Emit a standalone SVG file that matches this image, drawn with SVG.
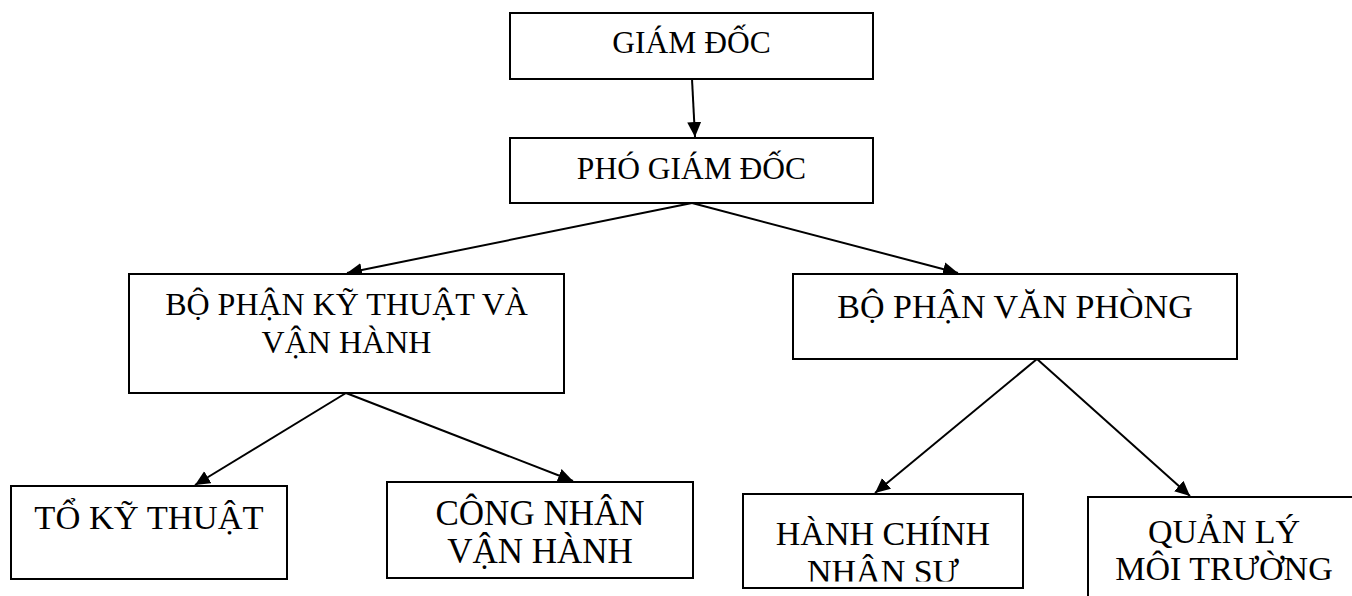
<svg xmlns="http://www.w3.org/2000/svg" width="1352" height="596" viewBox="0 0 1352 596">
  <style>
    .box { fill: #ffffff; stroke: #000000; stroke-width: 2; }
    .lbl { font-family: "Liberation Serif", "Times New Roman", serif; fill: #000000; text-anchor: middle; }
    .edge { stroke: #000000; stroke-width: 2; fill: none; marker-end: url(#arrow); }
  </style>
  <defs>
    <marker id="arrow" markerUnits="userSpaceOnUse" markerWidth="16" markerHeight="16" refX="15" refY="7" orient="auto">
      <path d="M0,0 L15,7 L0,14 z" fill="#000000"/>
    </marker>
    <clipPath id="clip-hc">
      <rect x="744" y="495" width="278" height="86.5"/>
    </clipPath>
  </defs>

  <g id="connectors">
    <line class="edge" x1="692" y1="79" x2="695" y2="137"/>
    <line class="edge" x1="692" y1="203" x2="347" y2="273"/>
    <line class="edge" x1="692" y1="203" x2="958" y2="273"/>
    <line class="edge" x1="346" y1="393" x2="195" y2="485"/>
    <line class="edge" x1="346" y1="393" x2="573" y2="481"/>
    <line class="edge" x1="1037" y1="359" x2="875" y2="493"/>
    <line class="edge" x1="1037" y1="359" x2="1190" y2="496"/>
  </g>

  <g id="giam-doc">
    <rect class="box" x="510" y="13" width="363" height="66"/>
    <text class="lbl" x="691.5" y="53" font-size="31.5">GIÁM ĐỐC</text>
  </g>

  <g id="pho-giam-doc">
    <rect class="box" x="510" y="138" width="363" height="65"/>
    <text class="lbl" x="691.5" y="179" font-size="31.5">PHÓ GIÁM ĐỐC</text>
  </g>

  <g id="bp-ky-thuat">
    <rect class="box" x="129" y="274" width="435" height="119"/>
    <text class="lbl" x="346.5" y="315" font-size="32">BỘ PHẬN KỸ THUẬT VÀ</text>
    <text class="lbl" x="346.5" y="353" font-size="32">VẬN HÀNH</text>
  </g>

  <g id="bp-van-phong">
    <rect class="box" x="793" y="274" width="444" height="85"/>
    <text class="lbl" x="1015" y="318" font-size="34">BỘ PHẬN VĂN PHÒNG</text>
  </g>

  <g id="to-ky-thuat">
    <rect class="box" x="11" y="486" width="276" height="93"/>
    <text class="lbl" x="149" y="529" font-size="34.5">TỔ KỸ THUẬT</text>
  </g>

  <g id="cong-nhan">
    <rect class="box" x="387" y="482" width="306" height="96"/>
    <text class="lbl" x="540" y="525" font-size="35">CÔNG NHÂN</text>
    <text class="lbl" x="540" y="563" font-size="35">VẬN HÀNH</text>
  </g>

  <g id="hanh-chinh">
    <rect class="box" x="743" y="494" width="280" height="94"/>
    <g clip-path="url(#clip-hc)">
      <text class="lbl" x="883" y="545" font-size="34">HÀNH CHÍNH</text>
      <text class="lbl" x="883" y="583" font-size="34">NHÂN SỰ</text>
    </g>
  </g>

  <g id="quan-ly">
    <rect class="box" x="1088" y="497" width="272" height="110"/>
    <text class="lbl" x="1224" y="543" font-size="34">QUẢN LÝ</text>
    <text class="lbl" x="1224" y="580" font-size="34">MÔI TRƯỜNG</text>
  </g>
</svg>
